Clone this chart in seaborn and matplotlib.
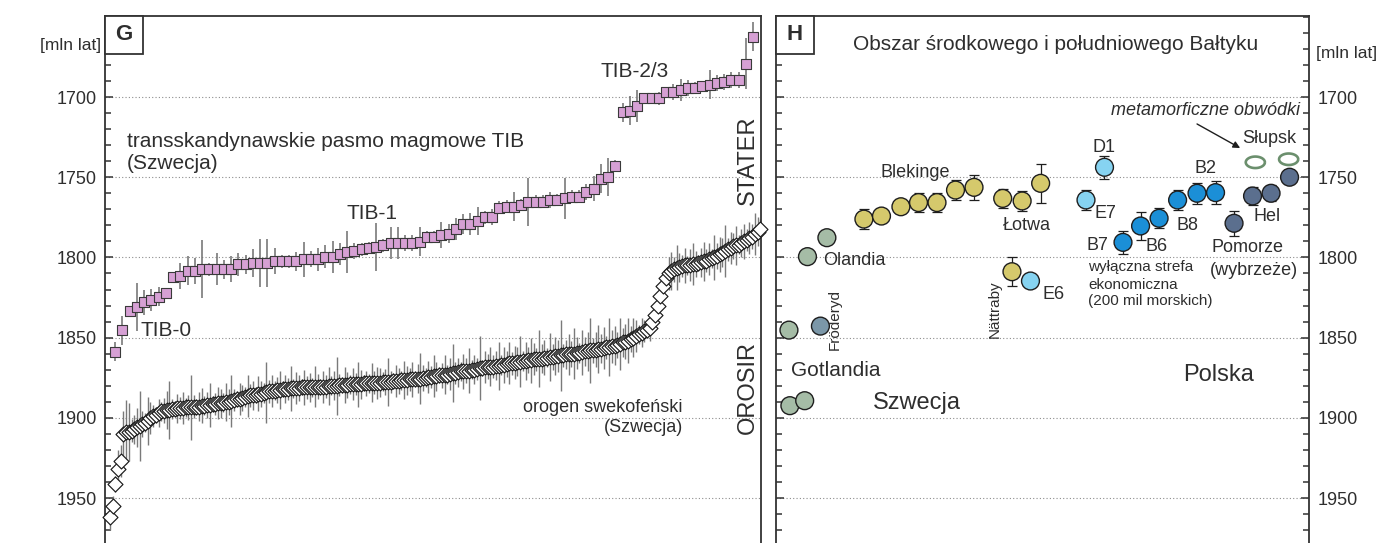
import numpy as np
import pandas as pd
import matplotlib
matplotlib.use("Agg")
import matplotlib.pyplot as plt
import seaborn as sns
from matplotlib.path import Path
from matplotlib.patches import Rectangle
from matplotlib.ticker import MultipleLocator

# ---------------- data: panel G ----------------
tib_age = [1858.8, 1845.5, 1833.4, 1830.7, 1828, 1826.6, 1824.5, 1822.4, 1812.4, 1811.4,
           1808.3, 1808.3, 1807.4, 1807.4, 1807.4, 1807.4, 1807.4, 1804.3, 1804.3, 1803.5,
           1803.5, 1803.5, 1802.4, 1802.4, 1802.4, 1802.4, 1801.2, 1801.2, 1801.2,
           1799.5, 1799.5, 1798, 1796.8, 1796, 1795, 1794.1, 1793.3, 1792.3, 1791.2,
           1791.2, 1791.2, 1791.2, 1790.2, 1787.3, 1787.3, 1786.2, 1785.2, 1782.3, 1779.2,
           1779.2, 1777.3, 1775, 1775, 1769, 1768.3, 1768.3, 1767.3, 1765.3, 1765.3,
           1765.3, 1764.2, 1764.2, 1763.2, 1762.1, 1762.1, 1759, 1757.1, 1750.9, 1749.9,
           1743,
           1709.5, 1708.5, 1705.6, 1700.8, 1700.8, 1700.8, 1696.7, 1696.7, 1695.6, 1694.4,
           1694.4, 1693.3, 1692.3, 1691.3, 1690.5, 1689.6, 1689.6, 1679.2, 1662.4]
tib_err = [6, 9, 3, 15, 8, 7, 6, 3, 3, 8, 9, 8, 18, 4, 10, 6, 8, 7, 6, 9, 15, 15, 8, 4, 4, 6, 11, 5, 7,
           7, 10, 7, 13, 5, 4, 4, 15, 4, 10, 10, 5, 5, 9, 4, 4, 8, 6, 7, 6, 7, 9, 4, 5, 4, 4,
           9, 4, 15, 4, 4, 5, 4, 13, 4, 4, 5, 8, 9, 12, 4,
           6, 9, 10, 3, 3, 4, 3, 5, 7, 5, 4, 3, 9, 5, 5, 5, 5, 16, 9]

sveco_age = [1962, 1955, 1941, 1932, 1927,
             1910, 1909, 1909, 1908, 1907, 1906,
             1905, 1904, 1903, 1902, 1900,
             1899, 1898, 1897, 1896, 1895.5,
             1895, 1895, 1894.5, 1894.5, 1894, 1894, 1894, 1893.5, 1893.5, 1893.5,
             1893, 1893, 1893, 1892.5, 1892.5, 1892, 1892, 1891.5, 1891.5, 1891,
             1891, 1890.5, 1890, 1890, 1889.5, 1889, 1888.5, 1888, 1887.5, 1887,
             1886.5, 1886, 1886, 1885.5, 1885, 1885, 1884.5, 1884, 1883.5, 1883,
             1883, 1882.5, 1882.5, 1882, 1882, 1882, 1881.5, 1881.5, 1881.5, 1881.5,
             1881, 1881, 1881, 1881, 1881, 1880.5, 1880.5, 1880.5, 1880.5, 1880.5,
             1880, 1880, 1880, 1880, 1879.5, 1879.5, 1879.5, 1879.5, 1879, 1879,
             1879, 1879, 1879, 1878.5, 1878.5, 1878.5, 1878, 1878, 1878, 1878,
             1877.5, 1877.5, 1877.5, 1877.5, 1877, 1877, 1877, 1876.5, 1876.5, 1876.5,
             1876, 1876, 1876, 1875.5, 1875.5, 1875, 1875, 1874.5, 1874.5, 1874,
             1874, 1873.5, 1873.5, 1873, 1873, 1872.5, 1872, 1872, 1871.5, 1871,
             1871, 1870.5, 1870.5, 1870, 1870, 1869.5, 1869, 1869, 1868.5, 1868,
             1868, 1868, 1867.5, 1867.5, 1867, 1867, 1866.5, 1866, 1866, 1865.5,
             1865, 1865, 1864.5, 1864.5, 1864, 1864, 1863.5, 1863.5, 1863, 1863,
             1862.5, 1862.5, 1862, 1862, 1861.5, 1861.5, 1861, 1861, 1860.5, 1860.5,
             1860, 1860, 1859.5, 1859.5, 1859, 1858.5, 1858.5, 1858, 1858, 1857.5,
             1857, 1857, 1856.5, 1856, 1856, 1855.5, 1855, 1854.5, 1854, 1853,
             1852.5, 1852, 1851, 1850, 1849, 1848, 1847, 1846, 1845, 1844,
             1840, 1836, 1830, 1824, 1818, 1813, 1810, 1808.5, 1807.5, 1806.5,
             1806, 1805.5, 1805, 1805, 1804.5, 1804, 1804, 1803.5, 1803, 1802.5,
             1802, 1801, 1800.5, 1800, 1799, 1798, 1797, 1796, 1795, 1794,
             1793, 1792.5, 1792, 1791, 1790, 1789, 1788, 1787, 1785.5, 1784, 1782]
sveco_err = [8, 6, 5, 12, 10, 14, 20, 18, 7, 9, 12,
             22, 8, 6, 15, 10, 7, 5, 9, 6, 8,
             12, 18, 6, 5, 9, 7, 10, 6, 8, 20,
             7, 5, 9, 11, 6, 8, 14, 5, 7, 10,
             9, 6, 12, 8, 16, 7, 5, 10, 8, 6,
             13, 7, 9, 5, 11, 8, 6, 19, 7, 10,
             6, 8, 12, 5, 9, 7, 14, 6, 10, 8,
             5, 11, 7, 9, 6, 13, 8, 5, 10, 7,
             12, 6, 9, 18, 7, 5, 11, 8, 6, 10,
             7, 14, 9, 5, 8, 6, 12, 7, 10, 9,
             6, 8, 15, 7, 5, 10, 8, 6, 12, 9,
             7, 11, 5, 9, 16, 8, 6, 10, 7, 13,
             9, 5, 8, 12, 6, 10, 18, 7, 9, 6,
             11, 8, 14, 6, 9, 7, 20, 5, 10, 8,
             12, 7, 9, 15, 6, 11, 8, 13, 7, 10,
             9, 16, 6, 12, 8, 14, 10, 7, 18, 9,
             11, 6, 15, 8, 12, 10, 22, 7, 9, 13,
             8, 16, 10, 6, 14, 9, 12, 20, 8, 11,
             15, 9, 13, 7, 18, 10, 12, 8, 16, 9,
             11, 14, 8, 12, 10, 6, 9, 7, 5, 8,
             6, 5, 8, 5, 7, 6, 10, 12, 8, 14,
             9, 7, 11, 6, 10, 13, 8, 5, 9, 12,
             7, 10, 6, 14, 8, 11, 9, 16, 7, 10,
             8, 12, 6, 9, 11, 7, 10, 8, 13, 9, 6]

# ---------------- data: panel H ----------------
h_slot = [0.0, 0.05, 0.85, 1.7, 1.0, 2.05,
          4.05, 5.0, 6.05, 7.0, 8.0, 9.0, 10.0,
          11.55, 12.6, 13.6, 12.05,
          13.05, 16.05, 17.05,
          18.05, 19.0, 20.0, 21.0, 22.05, 23.05,
          24.05, 25.05, 26.05, 27.05]
h_age = [1845.3, 1892.4, 1889.3, 1842.8, 1799.5, 1787.7,
         1776.1, 1774.2, 1768.4, 1765.8, 1765.8, 1758.0, 1756.3,
         1763.2, 1764.8, 1753.8, 1808.9,
         1814.7, 1764.2, 1743.8,
         1790.6, 1780.4, 1775.6, 1764.2, 1760.0, 1759.6,
         1778.7, 1761.7, 1760.0, 1750.0]
h_err = [0, 0, 0, 0, 0, 0,
         6, 0, 0, 6, 6, 6, 8,
         6, 6, 12, 9,
         0, 6.5, 7,
         7, 8.6, 6.3, 6, 6.6, 7.3,
         7.8, 5.5, 5, 0]
h_group = ["Gotlandia", "Gotlandia", "Gotlandia", "Fröderyd", "Olandia", "Olandia",
           "Blekinge", "Blekinge", "Blekinge", "Blekinge", "Blekinge", "Blekinge", "Blekinge",
           "Łotwa", "Łotwa", "Łotwa", "Nättraby",
           "E", "E", "E",
           "B", "B", "B", "B", "B", "B",
           "Pomorze", "Pomorze", "Pomorze", "Pomorze"]
slupsk_slot = [25.2, 27.0]
slupsk_age = [1740.7, 1738.8]

group_colors = {"Gotlandia": "#a5bca6", "Olandia": "#a5bca6", "Fröderyd": "#7b97a8",
                "Blekinge": "#d5c96c", "Łotwa": "#d5c96c", "Nättraby": "#d5c96c",
                "E": "#86d3f1", "B": "#1b8fd7", "Pomorze": "#5b6f8e"}

yticks = [1700, 1750, 1800, 1850, 1900, 1950]

# ---------------- style ----------------
sns.set_style("ticks")
plt.rcParams["font.family"] = ["Liberation Sans", "DejaVu Sans"]
TXT = "#2e2e2e"
SP = "#333333"

fig = plt.figure(figsize=(13.81, 5.43), dpi=100)
W, H = 1381.0, 543.0
top = (H - 16) / H
ax1 = fig.add_axes([105 / W, 0, 656 / W, top])
ax2 = fig.add_axes([776 / W, 0, 533 / W, top])

ylo, yhi = 1978.0, 1649.5

# ---------------- panel G ----------------
tib_x = np.arange(len(tib_age))
sveco_x = np.linspace(-0.69, 89.0, len(sveco_age))

ax1.errorbar(sveco_x, sveco_age, yerr=sveco_err, fmt="none", ecolor="#7a7a7a",
             elinewidth=1.0, zorder=2)
sns.scatterplot(x=sveco_x, y=sveco_age, ax=ax1, marker="D", s=58, color="white",
                edgecolor="#1a1a1a", linewidth=0.85, zorder=3, legend=False, clip_on=False)
ax1.errorbar(tib_x, tib_age, yerr=tib_err, fmt="none", ecolor="#6e6e6e",
             elinewidth=1.1, zorder=4)
sns.scatterplot(x=tib_x, y=tib_age, ax=ax1, marker="s", s=46, color="#d6a0d4",
                edgecolor="#3a3a3a", linewidth=0.8, zorder=5, legend=False)
ax1.set_xlim(-1.38, 89.1)

ax1.text(-1.93, 1667.6, "[mln lat]", ha="right", va="center", fontsize=12.5,
         color=TXT, clip_on=False)
ax1.text(1.66, 1728.0, "transskandynawskie pasmo magmowe TIB", ha="left", va="center",
         fontsize=15, color=TXT)
ax1.text(1.66, 1741.5, "(Szwecja)", ha="left", va="center", fontsize=15, color=TXT)
ax1.text(31.9, 1772.3, "TIB-1", ha="left", va="center", fontsize=15, color=TXT)
ax1.text(66.9, 1684.4, "TIB-2/3", ha="left", va="center", fontsize=15, color=TXT)
ax1.text(3.45, 1845.3, "TIB-0", ha="left", va="center", fontsize=15, color=TXT)
ax1.text(87.3, 1739.3, "STATER", ha="center", va="center", rotation=90, fontsize=17,
         color=TXT)
ax1.text(87.3, 1880.8, "OROSIR", ha="center", va="center", rotation=90, fontsize=17,
         color=TXT)
ax1.text(78.3, 1893.3, "orogen swekofeński", ha="right", va="center", fontsize=13,
         color=TXT)
ax1.text(78.3, 1905.7, "(Szwecja)", ha="right", va="center", fontsize=13, color=TXT)

bh = 38 / 527.0
bw = 38 / 656.0
ax1.add_patch(Rectangle((0, 1 - bh), bw, bh, transform=ax1.transAxes, fc="white",
                        ec=SP, lw=1.3, zorder=10, clip_on=False))
ax1.text(bw / 2, 1 - bh / 2, "G", transform=ax1.transAxes, ha="center", va="center",
         fontsize=16, fontweight="bold", color=TXT, zorder=11)

# ---------------- panel H ----------------
dfh = pd.DataFrame({"slot": h_slot, "age": h_age, "err": h_err, "group": h_group})
with_err = dfh[dfh["err"] > 0]
ax2.errorbar(with_err["slot"], with_err["age"], yerr=with_err["err"], fmt="none",
             ecolor="#1e1e1e", elinewidth=0.9, capsize=3.3, capthick=0.9, zorder=2)
sns.scatterplot(data=dfh, x="slot", y="age", hue="group", palette=group_colors, ax=ax2,
                s=165, edgecolor="#1e1e1e", linewidth=1.0, zorder=3, legend=False)

th = np.linspace(0, 2 * np.pi, 80)
ell = Path(np.column_stack([np.cos(th), 0.6 * np.sin(th)]))
sns.scatterplot(x=slupsk_slot, y=slupsk_age, ax=ax2, marker=ell, s=190,
                facecolor="none", edgecolor="#6b8f6d", linewidth=1.9, zorder=3,
                legend=False)
ax2.set_xlim(-0.7, 28.1)

def t2(x, y, s, **kw):
    kw.setdefault("fontsize", 13)
    kw.setdefault("color", TXT)
    kw.setdefault("ha", "left")
    kw.setdefault("va", "center")
    ax2.text(x, y, s, **kw)

t2(28.49, 1672.6, "[mln lat]", fontsize=12.5, clip_on=False)
t2(3.46, 1667.0, "Obszar środkowego i południowego Bałtyku", fontsize=15)
t2(27.62, 1708.1, "metamorficzne obwódki", ha="right", style="italic")
ax2.annotate("", xy=(24.38, 1731.8), xytext=(22.05, 1716.8),
             arrowprops=dict(arrowstyle="-|>", color="#1e1e1e", lw=1.0,
                             mutation_scale=10, shrinkA=0, shrinkB=0))
t2(24.49, 1725.6, "Słupsk")
t2(17.03, 1731.2, "D1", ha="center")
t2(16.49, 1772.3, "E7")
t2(22.49, 1744.3, "B2", ha="center")
t2(20.92, 1779.8, "B8")
t2(16.1, 1792.3, "B7")
t2(19.24, 1792.9, "B6")
t2(25.08, 1774.2, "Hel")
t2(22.81, 1794.1, "Pomorze")
t2(22.76, 1807.9, "(wybrzeże)")
t2(16.16, 1806.0, "wyłączna strefa", fontsize=11)
t2(16.16, 1817.2, "ekonomiczna", fontsize=11)
t2(16.16, 1827.2, "(200 mil morskich)", fontsize=11)
t2(4.92, 1746.8, "Blekinge")
t2(11.57, 1779.8, "Łotwa")
t2(1.84, 1802.2, "Olandia")
t2(11.14, 1850.2, "Nättraby", ha="center", va="bottom", rotation=90, fontsize=11)
t2(13.68, 1822.8, "E6")
t2(2.49, 1857.7, "Fröderyd", ha="center", va="bottom", rotation=90, fontsize=11)
t2(0.11, 1870.2, "Gotlandia", fontsize=15)
t2(4.54, 1890.8, "Szwecja", fontsize=17)
t2(21.3, 1873.3, "Polska", fontsize=17)

bw2 = 38 / 533.0
ax2.add_patch(Rectangle((0, 1 - bh), bw2, bh, transform=ax2.transAxes, fc="white",
                        ec=SP, lw=1.3, zorder=10, clip_on=False))
ax2.text(bw2 / 2, 1 - bh / 2, "H", transform=ax2.transAxes, ha="center", va="center",
         fontsize=16, fontweight="bold", color=TXT, zorder=11)

# ---------------- axes styling ----------------
for ax in (ax1, ax2):
    ax.set_ylim(ylo, yhi)
    ax.yaxis.set_major_locator(MultipleLocator(50))
    ax.yaxis.set_minor_locator(MultipleLocator(10))
    ax.set_yticks(yticks)
    ax.grid(axis="y", which="major", linestyle=(0, (1, 2)), color="#8c8c8c", lw=0.8)
    ax.grid(axis="x", visible=False)
    ax.set_xticks([])
    ax.spines["bottom"].set_visible(False)
    for s in ("left", "right", "top"):
        ax.spines[s].set_color(SP)
        ax.spines[s].set_linewidth(1.3)
    ax.set_xlabel("")
    ax.set_ylabel("")
    ax.set_axisbelow(True)

ax1.tick_params(axis="y", which="both", direction="in", left=True, right=False,
                labelleft=True, labelright=False, colors=SP, labelcolor=TXT,
                labelsize=13, pad=6)
ax2.tick_params(axis="y", which="both", direction="in", left=True, right=True,
                labelleft=False, labelright=True, colors=SP, labelcolor=TXT,
                labelsize=13, pad=6)
for ax in (ax1, ax2):
    ax.tick_params(axis="y", which="major", length=6, width=1.1)
    ax.tick_params(axis="y", which="minor", length=4.5, width=1.1)

fig.savefig("out.png", dpi=100, facecolor="white")
